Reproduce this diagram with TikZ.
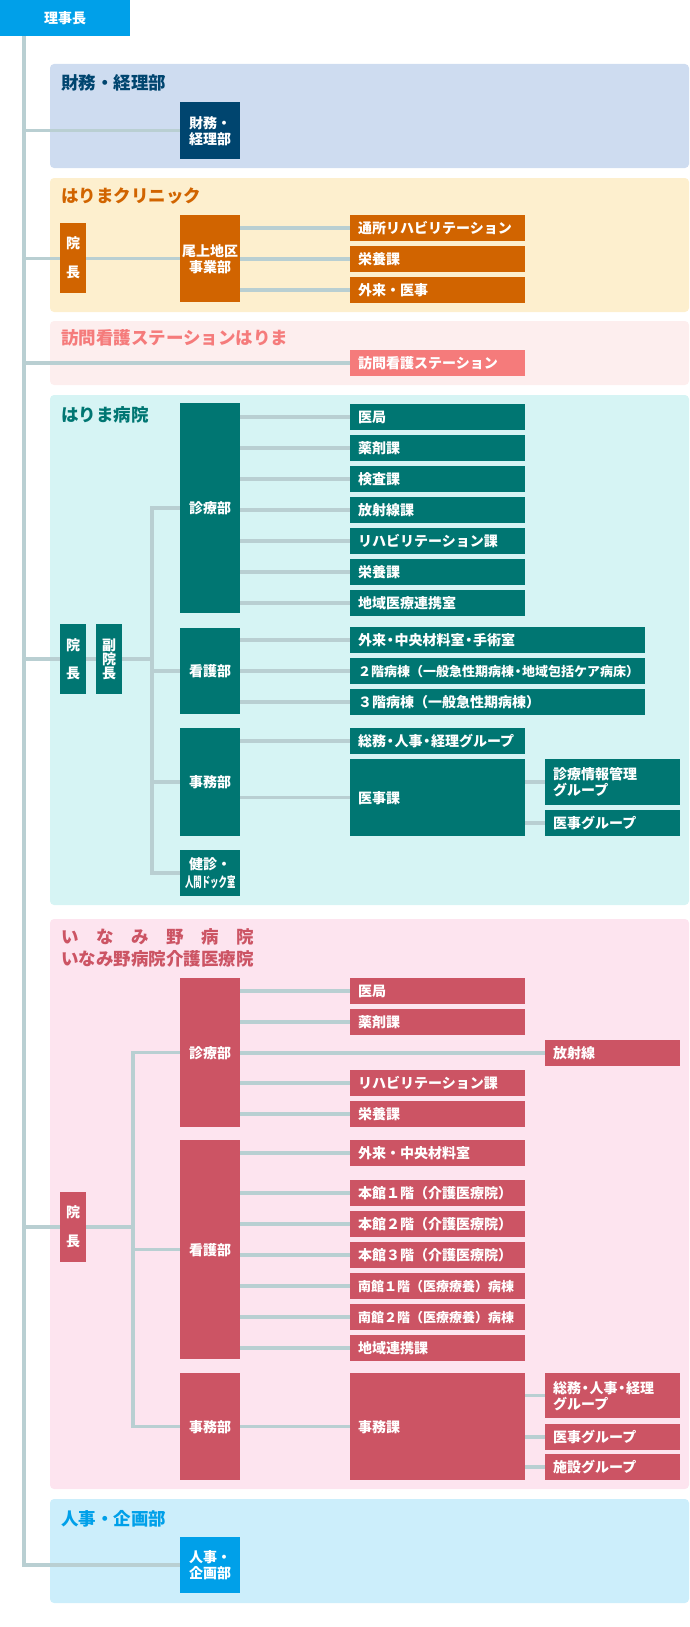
\documentclass[tikz,border=0pt]{standalone}
\usepackage{fontspec}
\setmainfont{Noto Sans CJK JP}
\usepackage{graphicx}
\usepackage{xcolor}
\usetikzlibrary{positioning}

\definecolor{wirecol}{HTML}{B9CFD2}
\definecolor{skyblue}{HTML}{00A0E9}
\definecolor{skybg}{HTML}{CCEEFB}
\definecolor{navy}{HTML}{00456F}
\definecolor{navybg}{HTML}{CEDCF0}
\definecolor{orng}{HTML}{D16400}
\definecolor{orngbg}{HTML}{FDEFCE}
\definecolor{salmon}{HTML}{F57B7B}
\definecolor{salmonbg}{HTML}{FDEEEE}
\definecolor{tealbox}{HTML}{007672}
\definecolor{tealbg}{HTML}{D6F4F4}
\definecolor{rose}{HTML}{CC5464}
\definecolor{rosebg}{HTML}{FDE4EF}

\newcommand{\ndot}{\makebox[0.6em]{・}}

\pgfdeclarelayer{panels}
\pgfdeclarelayer{wires}
\pgfsetlayers{panels,wires,main}

\tikzset{
  unitbox/.style={anchor=north west, minimum height=26pt, inner xsep=8pt, inner ysep=0pt,
    text=white, font=\bfseries\fontsize{14}{16}\selectfont, align=left},
  narrow/.style={unitbox, minimum width=175pt, text width=159pt},
  broad/.style={unitbox, minimum width=295pt, text width=279pt},
  grpbox/.style={unitbox, minimum width=135pt, text width=119pt},
  deptbox/.style={anchor=north west, minimum width=60pt, inner sep=0pt, text=white,
    font=\bfseries\fontsize{14}{16}\selectfont, align=center},
  headbox/.style={anchor=north west, minimum width=26pt, inner sep=0pt, text=white,
    font=\bfseries\fontsize{14}{14}\selectfont, align=center},
  wire/.style={draw=wirecol, line width=3.5pt},
  panel/.style={rounded corners=4pt},
  title/.style={anchor=west, inner sep=0pt, font=\bfseries\fontsize{17.5}{22}\selectfont},
}

\begin{document}
\begin{tikzpicture}[x=1pt, y=-1pt, node distance=4.6pt]
\useasboundingbox (0,0) rectangle (690,1627);

% panels
\begin{pgfonlayer}{panels}
  \fill[navybg, panel] (50,64) rectangle (689,168);
  \fill[orngbg, panel] (50,178) rectangle (689,312);
  \fill[salmonbg, panel] (50,321) rectangle (689,385);
  \fill[tealbg, panel] (50,395) rectangle (689,905);
  \fill[rosebg, panel] (50,919) rectangle (689,1489);
  \fill[skybg, panel] (50,1499) rectangle (689,1603);
\end{pgfonlayer}

% top
\node (rijicho) [anchor=north west, fill=skyblue, minimum width=130pt, minimum height=36pt,
  text=white, font=\bfseries\fontsize{14}{16}\selectfont] at (0,0) {理事長};
\coordinate (trunk) at ([xshift=24pt]rijicho.south west);

% zaimu
\node (zaimutitle) [title, text=navy] at (61,83) {財務・経理部};
\node (zaimu) [deptbox, fill=navy, minimum height=57pt] at (180,102) {財務・\\経理部};

% clinic
\node (ctitle) [title, text=orng] at (61,196) {はりまクリニック};
\node (cdir) [headbox, fill=orng, minimum height=70pt] at (60,223) {院\\[15pt]長};
\node (onoe) [deptbox, fill=orng, minimum height=87pt] at (180,215) {尾上地区\\事業部};
\node (tsusho) [narrow, fill=orng] at (350,215) {通所リハビリテーション};
\node (ceiyo) [narrow, fill=orng, below=of tsusho] {栄養課};
\node (cgairai) [narrow, fill=orng, below=of ceiyo] {外来・医事};

% houmon
\node (houmontitle) [title, text=salmon] at (61,338) {訪問看護ステーションはりま};
\node (houmon) [narrow, fill=salmon] at (350,350) {訪問看護ステーション};

% harima hospital
\node (htitle) [title, text=tealbox] at (61,415) {はりま病院};
\node (hdir) [headbox, fill=tealbox, minimum height=70pt] at (60,624) {院\\[14pt]長};
\node (hvice) [headbox, fill=tealbox, minimum height=70pt] at (96,624) {副\\院\\長};
\node (hshin) [deptbox, fill=tealbox, minimum height=210pt] at (180,403) {診療部};
\node (hkan) [deptbox, fill=tealbox, minimum height=86pt] at (180,628) {看護部};
\node (hjimu) [deptbox, fill=tealbox, minimum height=108pt] at (180,728) {事務部};
\node (hken) [deptbox, fill=tealbox, minimum height=46pt, font=\bfseries\fontsize{14}{18}\selectfont]
  at (180,850) {健診・\\\scalebox{0.6}[1]{人間ドック室}};
\coordinate (hbus) at ([xshift=-28pt]hshin.west);

\node (hikyoku) [narrow, fill=tealbox] at (350,404) {医局};
\node (hyakuzai) [narrow, fill=tealbox, below=of hikyoku] {薬剤課};
\node (hkensa) [narrow, fill=tealbox, below=of hyakuzai] {検査課};
\node (hhousha) [narrow, fill=tealbox, below=of hkensa] {放射線課};
\node (hreha) [narrow, fill=tealbox, below=of hhousha] {リハビリテーション課};
\node (heiyo) [narrow, fill=tealbox, below=of hreha] {栄養課};
\node (hrenkei) [narrow, fill=tealbox, below=of heiyo] {地域医療連携室};
\node (hgairai) [broad, fill=tealbox] at (350,627) {外来\ndot 中央材料室\ndot 手術室};
\node (hward2) [broad, fill=tealbox, below=of hgairai, font=\bfseries\fontsize{13}{16}\selectfont]
  {２階病棟（一般急性期病棟\ndot 地域包括ケア病床）};
\node (hward3) [broad, fill=tealbox, below=of hward2] {３階病棟（一般急性期病棟）};
\node (hsomu) [narrow, fill=tealbox] at (350,728) {総務\ndot 人事\ndot 経理グループ};
\node (hiji) [narrow, fill=tealbox, minimum height=77pt] at (350,759) {医事課};
\node (hjoho) [grpbox, fill=tealbox, minimum height=46pt] at (545,759) {診療情報管理\\グループ};
\node (higrp) [grpbox, fill=tealbox] at (545,810) {医事グループ};

% inamino hospital
\node (ititle) [title, text=rose] at (61,937)
  {\makebox[11em]{い\hfill な\hfill み\hfill 野\hfill 病\hfill 院}};
\node (ititlesub) [title, text=rose] at (61,959) {いなみ野病院介護医療院};
\node (idir) [headbox, fill=rose, minimum height=70pt] at (60,1192) {院\\[15pt]長};
\node (ishin) [deptbox, fill=rose, minimum height=149pt] at (180,978) {診療部};
\node (ikan) [deptbox, fill=rose, minimum height=219pt] at (180,1140) {看護部};
\node (ijimu) [deptbox, fill=rose, minimum height=107pt] at (180,1373) {事務部};
\coordinate (ibus) at ([xshift=-47pt]ishin.west);

\node (iikyoku) [narrow, fill=rose] at (350,978) {医局};
\node (iyakuzai) [narrow, fill=rose, below=of iikyoku] {薬剤課};
\node (ihousha) [grpbox, fill=rose] at (545,1040) {放射線};
\node (ireha) [narrow, fill=rose] at (350,1070) {リハビリテーション課};
\node (ieiyo) [narrow, fill=rose, below=of ireha] {栄養課};
\node (igairai) [narrow, fill=rose] at (350,1140) {外来・中央材料室};
\node (ihon1) [narrow, fill=rose] at (350,1180) {本館１階（介護医療院）};
\node (ihon2) [narrow, fill=rose, below=of ihon1] {本館２階（介護医療院）};
\node (ihon3) [narrow, fill=rose, below=of ihon2] {本館３階（介護医療院）};
\node (iminami1) [narrow, fill=rose, below=of ihon3, font=\bfseries\fontsize{13}{16}\selectfont]
  {南館１階（医療療養）病棟};
\node (iminami2) [narrow, fill=rose, below=of iminami1, font=\bfseries\fontsize{13}{16}\selectfont]
  {南館２階（医療療養）病棟};
\node (irenkei) [narrow, fill=rose, below=of iminami2] {地域連携課};
\node (ijimuka) [narrow, fill=rose, minimum height=107pt] at (350,1373) {事務課};
\node (isomu) [grpbox, fill=rose, minimum height=45pt] at (545,1373) {総務\ndot 人事\ndot 経理\\グループ};
\node (iigrp) [grpbox, fill=rose] at (545,1424) {医事グループ};
\node (ishisetsu) [grpbox, fill=rose] at (545,1454) {施設グループ};

% jinji
\node (jtitle) [title, text=skyblue] at (61,1519) {人事・企画部};
\node (jinji) [deptbox, fill=skyblue, minimum height=56pt] at (180,1537) {人事・\\企画部};

% connectors
\begin{pgfonlayer}{wires}
  \draw[wire] (trunk) |- (jinji.west);
  \draw[wire] (trunk |- zaimu.west) -- (zaimu.west);
  \draw[wire] (trunk |- onoe.west) -- (onoe.west);
  \draw[wire] (onoe.east |- tsusho.west) -- (tsusho.west)
              (onoe.east |- ceiyo.west) -- (ceiyo.west)
              (onoe.east |- cgairai.west) -- (cgairai.west);
  \draw[wire] (trunk |- houmon.west) -- (houmon.west);

  \draw[wire] (trunk |- hdir.west) -- (hbus |- hdir.west);
  \draw[wire] (hshin.west) -- (hbus) |- (hken.west);
  \draw[wire] (hbus |- hkan.west) -- (hkan.west)
              (hbus |- hjimu.west) -- (hjimu.west);
  \draw[wire] (hshin.east |- hikyoku.west) -- (hikyoku.west)
              (hshin.east |- hyakuzai.west) -- (hyakuzai.west)
              (hshin.east |- hkensa.west) -- (hkensa.west)
              (hshin.east |- hhousha.west) -- (hhousha.west)
              (hshin.east |- hreha.west) -- (hreha.west)
              (hshin.east |- heiyo.west) -- (heiyo.west)
              (hshin.east |- hrenkei.west) -- (hrenkei.west);
  \draw[wire] (hkan.east |- hgairai.west) -- (hgairai.west)
              (hkan.east |- hward2.west) -- (hward2.west)
              (hkan.east |- hward3.west) -- (hward3.west);
  \draw[wire] (hjimu.east |- hsomu.west) -- (hsomu.west)
              (hjimu.east |- hiji.west) -- (hiji.west);
  \draw[wire] (hiji.east |- hjoho.west) -- (hjoho.west)
              (hiji.east |- higrp.west) -- (higrp.west);

  \draw[wire] (trunk |- idir.west) -- (ibus |- idir.west);
  \draw[wire] (ishin.west) -- (ibus) |- (ijimu.west);
  \draw[wire] (ibus |- ikan.west) -- (ikan.west);
  \draw[wire] (ishin.east |- iikyoku.west) -- (iikyoku.west)
              (ishin.east |- iyakuzai.west) -- (iyakuzai.west)
              (ishin.east |- ihousha.west) -- (ihousha.west)
              (ishin.east |- ireha.west) -- (ireha.west)
              (ishin.east |- ieiyo.west) -- (ieiyo.west);
  \draw[wire] (ikan.east |- igairai.west) -- (igairai.west)
              (ikan.east |- ihon1.west) -- (ihon1.west)
              (ikan.east |- ihon2.west) -- (ihon2.west)
              (ikan.east |- ihon3.west) -- (ihon3.west)
              (ikan.east |- iminami1.west) -- (iminami1.west)
              (ikan.east |- iminami2.west) -- (iminami2.west)
              (ikan.east |- irenkei.west) -- (irenkei.west);
  \draw[wire] (ijimu.east |- ijimuka.west) -- (ijimuka.west);
  \draw[wire] (ijimuka.east |- isomu.west) -- (isomu.west)
              (ijimuka.east |- iigrp.west) -- (iigrp.west)
              (ijimuka.east |- ishisetsu.west) -- (ishisetsu.west);
\end{pgfonlayer}
\end{tikzpicture}
\end{document}
